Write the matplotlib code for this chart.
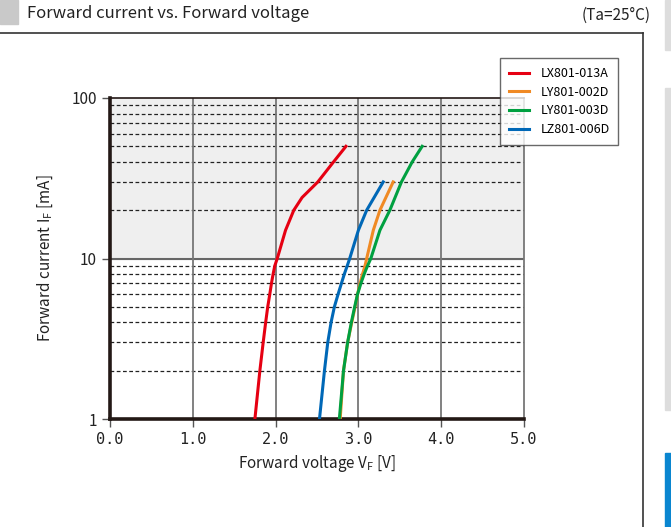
import numpy as np
import matplotlib
matplotlib.use("Agg")
import matplotlib.pyplot as plt
from matplotlib.lines import Line2D
from matplotlib.patches import Rectangle
from matplotlib.ticker import FixedLocator, NullFormatter

# data (V, mA)
names = ["LX801-013A", "LY801-002D", "LY801-003D", "LZ801-006D"]
colors = ["#e60012", "#f08a24", "#00a040", "#0068b7"]

lx_v = [1.75, 1.81, 1.85, 1.88, 1.905, 1.93, 1.95, 1.97, 1.99, 2.02, 2.12, 2.22, 2.32, 2.51, 2.70, 2.85]
lx_i = [1, 2, 3, 4, 5, 6, 7, 8, 9, 10, 15, 20, 24, 30, 40, 50]

ly2_v = [2.78, 2.82, 2.87, 2.92, 2.96, 2.99, 3.02, 3.05, 3.08, 3.10, 3.18, 3.26, 3.42]
ly2_i = [1, 2, 3, 4, 5, 6, 7, 8, 9, 10, 15, 20, 30]

ly3_v = [2.77, 2.82, 2.87, 2.915, 2.955, 2.99, 3.03, 3.07, 3.11, 3.15, 3.26, 3.38, 3.52, 3.65, 3.77]
ly3_i = [1, 2, 3, 4, 5, 6, 7, 8, 9, 10, 15, 20, 30, 40, 50]

lz_v = [2.53, 2.59, 2.63, 2.67, 2.71, 2.755, 2.795, 2.83, 2.865, 2.895, 3.0, 3.10, 3.30]
lz_i = [1, 2, 3, 4, 5, 6, 7, 8, 9, 10, 15, 20, 30]

series = [(lx_v, lx_i), (ly2_v, ly2_i), (ly3_v, ly3_i), (lz_v, lz_i)]

x_ticks = [0, 1, 2, 3, 4, 5]
x_labels = ["0.0", "1.0", "2.0", "3.0", "4.0", "5.0"]
y_ticks = [1, 10, 100]
y_labels = ["1", "10", "100"]

plt.rcParams['font.family'] = ['Noto Sans CJK JP', 'DejaVu Sans']

W, H = 671, 527
fig = plt.figure(figsize=(W / 100, H / 100), dpi=100)

# page decorations
fig.patches.append(Rectangle((0, 1 - 24 / H), 18 / W, 24 / H, transform=fig.transFigure,
                             color="#c9c9c9", zorder=0))
fig.patches.append(Rectangle((665 / W, 1 - 50 / H), 6 / W, 50 / H, transform=fig.transFigure,
                             color="#dddddd", zorder=0))
fig.patches.append(Rectangle((665 / W, 1 - 410 / H), 6 / W, 322 / H, transform=fig.transFigure,
                             color="#dddddd", zorder=0))
fig.patches.append(Rectangle((665 / W, 0), 6 / W, 74 / H, transform=fig.transFigure,
                             color="#0a86d0", zorder=0))
fig.lines.append(Line2D([0, 643 / W], [1 - 33 / H] * 2, transform=fig.transFigure,
                        color="#333333", lw=1.2))
fig.lines.append(Line2D([643 / W] * 2, [1 - 33 / H, 0], transform=fig.transFigure,
                        color="#333333", lw=1.2))

fig.text(27 / W, 1 - 13 / H, "Forward current vs. Forward voltage", fontsize=12,
         va="center", ha="left", color="#222222")
fig.text(651 / W, 1 - 15 / H, "(Ta=25°C)", fontsize=11, va="center", ha="right",
         color="#222222")

ax = fig.add_axes([110 / W, 1 - 419 / H, 414 / W, 321 / H])
ax.set_yscale("log")
ax.set_xlim(0, 5)
ax.set_ylim(1, 100)

ax.axhspan(10, 100, color="#efefef", zorder=0)

# minor dashed lines
for dec in [1, 10]:
    for k in range(2, 10):
        ax.axhline(dec * k, color="#222222", lw=0.9, ls=(0, (3, 2)), zorder=1)
ax.axhline(10, color="#666666", lw=1.5, zorder=1)
for x in x_ticks[1:-1]:
    ax.axvline(x, color="#777777", lw=1.3, zorder=1)

for (v, i), c, n in zip(series, colors, names):
    ax.plot(v, i, color=c, lw=2.2, label=n, zorder=3, solid_joinstyle="round")

ax.xaxis.set_major_locator(FixedLocator(x_ticks))
ax.set_xticklabels(x_labels, family=["DejaVu Sans Mono"], fontsize=11)
ax.yaxis.set_major_locator(FixedLocator(y_ticks))
ax.yaxis.set_minor_locator(FixedLocator([]))
ax.yaxis.set_minor_formatter(NullFormatter())
ax.set_yticklabels(y_labels, fontsize=11)
ax.tick_params(axis="both", length=6, width=1, color="#555555", direction="out",
               labelcolor="#222222")

for s in ["left", "bottom"]:
    ax.spines[s].set_linewidth(2.6)
    ax.spines[s].set_color("#231815")
ax.spines["top"].set_linewidth(1.2)
ax.spines["top"].set_color("#231815")
ax.spines["right"].set_linewidth(1.3)
ax.spines["right"].set_color("#777777")

ax.set_xlabel("Forward voltage V$_\\mathregular{F}$ [V]", fontsize=11, color="#222222",
              labelpad=4)
ax.set_ylabel("Forward current I$_\\mathregular{F}$ [mA]", fontsize=11, color="#222222",
              labelpad=12)

leg = fig.legend(loc="upper left", bbox_to_anchor=(494 / W, 1 - 52 / H), fontsize=9,
                 frameon=True, fancybox=False, handlelength=1.6, borderpad=0.7,
                 labelspacing=0.45, handletextpad=0.9)
leg.get_frame().set_edgecolor("#444444")
leg.get_frame().set_linewidth(1.0)

fig.savefig("out.png", dpi=100)
